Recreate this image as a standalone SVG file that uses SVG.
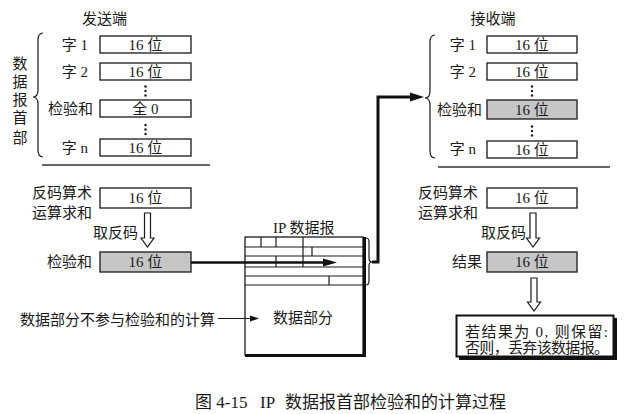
<svg xmlns="http://www.w3.org/2000/svg" width="632" height="414" viewBox="0 0 632 414">
<style>
text{font-family:"Liberation Serif","Noto Sans CJK SC",serif;font-size:15px;fill:#1a1a1a}
.c{text-anchor:middle}
.e{text-anchor:end}
.box{fill:#fff;stroke:#1a1a1a;stroke-width:1.3}
.gray{fill:#c6c6c6;stroke:#1a1a1a;stroke-width:1.3}
.thin{fill:none;stroke:#1a1a1a;stroke-width:1.2}
.thick{fill:none;stroke:#111;stroke-width:3}
.hollow{fill:#fff;stroke:#1a1a1a;stroke-width:1.2}
.dot{fill:#1a1a1a}
.sep{stroke:#333;stroke-width:1.5}
</style>
<rect width="632" height="414" fill="#fff"/>

<g id="sender">
<text x="104.5" y="23.5" class="c">发送端</text>
<g id="sender-label">
<text x="20" y="69" class="c">数</text>
<text x="20" y="87" class="c">据</text>
<text x="20" y="105" class="c">报</text>
<text x="20" y="123" class="c">首</text>
<text x="20" y="143" class="c">部</text>
</g>
<path class="thin" d="M43 33 Q38 33 38 40 L38 90 Q38 97 33 97 Q38 97 38 104 L38 150 Q38 157 43 157"/>
<g id="s-word1"><text x="88" y="49.5" class="e">字 1</text><rect class="box" x="100" y="36" width="91" height="17"/><text x="145.5" y="49.5" class="c">16 位</text></g>
<g id="s-word2"><text x="88" y="76.5" class="e">字 2</text><rect class="box" x="100" y="63" width="91" height="17"/><text x="145.5" y="76.5" class="c">16 位</text></g>
<circle class="dot" cx="145.5" cy="86.5" r="1.2"/><circle class="dot" cx="145.5" cy="91" r="1.2"/><circle class="dot" cx="145.5" cy="95.5" r="1.2"/>
<g id="s-checksum"><text x="93" y="113.5" class="e">检验和</text><rect class="box" x="100" y="100" width="91" height="17"/><text x="145.5" y="113.5" class="c">全 0</text></g>
<circle class="dot" cx="145.5" cy="125" r="1.2"/><circle class="dot" cx="145.5" cy="129.5" r="1.2"/><circle class="dot" cx="145.5" cy="134" r="1.2"/>
<g id="s-wordn"><text x="88" y="152.5" class="e">字 n</text><rect class="box" x="100" y="139" width="91" height="17"/><text x="145.5" y="152.5" class="c">16 位</text></g>
<line class="sep" x1="42" y1="165" x2="210" y2="165"/>
<g id="s-sum"><text x="32" y="198">反码算术</text><text x="32" y="218">运算求和</text><rect class="box" x="100" y="188" width="91" height="20"/><text x="145.5" y="203" class="c">16 位</text></g>
<g id="s-invert"><text x="138" y="238" class="e">取反码</text><polygon class="hollow" points="144.5,213 150.5,213 150.5,238 154,238 147.5,247 141,238 144.5,238"/></g>
<g id="s-result"><text x="92" y="267" class="e">检验和</text><rect class="gray" x="100" y="252" width="91" height="20"/><text x="145.5" y="267" class="c">16 位</text></g>
<text id="note" x="20" y="325">数据部分不参与检验和的计算</text>
</g>

<g id="ip-datagram">
<text x="273" y="233">IP 数据报</text>
<rect class="gray" x="303" y="256" width="60" height="11" stroke="none"/>
<rect class="box" x="245" y="237" width="118" height="118" fill="none"/>
<g class="thin">
<line x1="245" y1="247" x2="363" y2="247"/>
<line x1="245" y1="256" x2="363" y2="256"/>
<line x1="245" y1="267" x2="363" y2="267"/>
<line x1="245" y1="276" x2="363" y2="276"/>
<line x1="245" y1="285" x2="363" y2="285"/>
<line x1="261" y1="237" x2="261" y2="247"/>
<line x1="276" y1="237" x2="276" y2="247"/>
<line x1="303" y1="237" x2="303" y2="267"/>
<line x1="312" y1="247" x2="312" y2="256"/>
<line x1="276" y1="256" x2="276" y2="267"/>
<line x1="329" y1="276" x2="329" y2="285"/>
</g>
<line class="thick" x1="364.5" y1="237" x2="364.5" y2="357"/>
<line class="thick" x1="245" y1="355.5" x2="366" y2="355.5"/>
<text x="273" y="323">数据部分</text>
<path class="thin" d="M366 238 Q369 238 369 242 L369 258 Q369 262 372 262 Q369 262 369 266 L369 281 Q369 285 366 285"/>
</g>

<g id="receiver">
<text x="493" y="23.5" class="c">接收端</text>
<path class="thin" d="M435 35 Q430 35 430 42 L430 91 Q430 98 425 98 Q430 98 430 105 L430 151 Q430 158 435 158"/>
<g id="r-word1"><text x="476" y="49.5" class="e">字 1</text><rect class="box" x="487" y="36" width="90" height="17"/><text x="532" y="49.5" class="c">16 位</text></g>
<g id="r-word2"><text x="476" y="76.5" class="e">字 2</text><rect class="box" x="487" y="63" width="90" height="17"/><text x="532" y="76.5" class="c">16 位</text></g>
<circle class="dot" cx="532" cy="86.5" r="1.2"/><circle class="dot" cx="532" cy="91" r="1.2"/><circle class="dot" cx="532" cy="95.5" r="1.2"/>
<g id="r-checksum"><text x="482" y="114.5" class="e">检验和</text><rect class="gray" x="487" y="100" width="90" height="19"/><text x="532" y="114.5" class="c">16 位</text></g>
<circle class="dot" cx="532" cy="126.5" r="1.2"/><circle class="dot" cx="532" cy="131" r="1.2"/><circle class="dot" cx="532" cy="135.5" r="1.2"/>
<g id="r-wordn"><text x="476" y="154" class="e">字 n</text><rect class="box" x="487" y="141" width="90" height="17"/><text x="532" y="154.5" class="c">16 位</text></g>
<line class="sep" x1="438" y1="167" x2="610" y2="167"/>
<g id="r-sum"><text x="418" y="198">反码算术</text><text x="418" y="218">运算求和</text><rect class="box" x="487" y="188" width="90" height="20"/><text x="532" y="203" class="c">16 位</text></g>
<g id="r-invert"><text x="526" y="238" class="e">取反码</text><polygon class="hollow" points="530,213 536,213 536,238 539.5,238 533,247 526.5,238 530,238"/></g>
<g id="r-result"><text x="482" y="267" class="e">结果</text><rect class="gray" x="487" y="252" width="90" height="20"/><text x="532" y="267" class="c">16 位</text></g>
<polygon class="hollow" points="531,278 537,278 537,302 540.5,302 534,311 527.5,302 531,302"/>
<g id="decision">
<rect x="459" y="318" width="158" height="42" fill="#111"/>
<rect x="456.5" y="315.5" width="157" height="41" fill="#fff" stroke="#111" stroke-width="2"/>
<text x="465" y="337" textLength="143" lengthAdjust="spacing">若结果为 0, 则保留:</text>
<text x="465" y="353" textLength="144" lengthAdjust="spacing">否则，丢弃该数据报。</text>
</g>
</g>

<g id="connectors">
<line x1="191" y1="262.5" x2="326" y2="262.5" stroke="#111" stroke-width="2.5"/>
<polygon points="337,262.5 323,258.5 323,266.5" fill="#111"/>
<polyline class="thick" points="372,262 378,262 378,97 412,97"/>
<polygon points="424,97 410,92.5 410,101.5" fill="#111"/>
<line class="thin" x1="218" y1="318.5" x2="252" y2="318.5"/>
<polygon points="259,318.5 250,315.5 250,321.5" fill="#111"/>
</g>

<text id="caption" x="195" y="408" style="font-size:17px">图 4-15<tspan x="260">IP</tspan><tspan x="285">数据报首部检验和的计算过程</tspan></text>
</svg>
